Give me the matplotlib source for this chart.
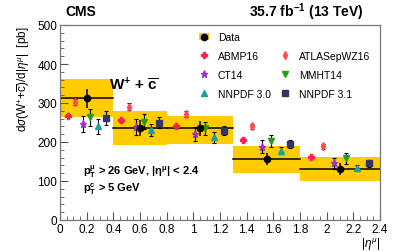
import numpy as np
import matplotlib
matplotlib.use("Agg")
import matplotlib.pyplot as plt
from matplotlib.patches import Patch
from matplotlib.lines import Line2D

plt.rcParams['font.family'] = ['Liberation Sans', 'DejaVu Sans']
plt.rcParams['mathtext.fontset'] = 'custom'
plt.rcParams['mathtext.rm'] = 'Liberation Sans'
plt.rcParams['mathtext.it'] = 'Liberation Sans:italic'
plt.rcParams['mathtext.bf'] = 'Liberation Sans:bold'

# bins in |eta^mu|
bin_edges = [0.0, 0.4, 0.8, 1.3, 1.8, 2.4]

# measured cross section
data_val = [312, 236, 235, 156, 131]
data_stat = [25, 20, 20, 15, 15]
band_lo = [263, 192, 195, 120, 101]
band_hi = [361, 280, 267, 190, 162]

# predictions
pdf_names = ["ABMP16", "ATLASepWZ16", "CT14", "MMHT14", "NNPDF 3.0", "NNPDF 3.1"]
abmp16 = [267, 256, 240, 206, 161]
atlas = [302, 291, 272, 240, 189]
ct14 = [246, 238, 221, 188, 146]
mmht14 = [263, 252, 235, 202, 158]
nnpdf30 = [240, 231, 212, 178, 133]
nnpdf31 = [261, 249, 229, 195, 145]
abmp16_err = [4, 4, 4, 3, 3]
atlas_err = [8, 8, 7, 7, 7]
ct14_err = [21, 20, 18, 17, 14]
mmht14_err = [22, 19, 17, 15, 14]
nnpdf30_err = [20, 16, 14, 10, 8]
nnpdf31_err = [18, 14, 12, 10, 9]

styles = [
    dict(marker='P', color='#ff2050', ms=5.0),
    dict(marker='d', color='#ff4d4d', ms=3.6),
    dict(marker='*', color='#9933cc', ms=5.2),
    dict(marker='v', color='#22a010', ms=4.8),
    dict(marker='^', color='#1aa0a0', ms=4.8),
    dict(marker='s', color='#353565', ms=4.6),
]
preds = [abmp16, atlas, ct14, mmht14, nnpdf30, nnpdf31]
pred_errs = [abmp16_err, atlas_err, ct14_err, mmht14_err, nnpdf30_err, nnpdf31_err]

fig = plt.figure(figsize=(3.99, 2.53), dpi=100)
ax = fig.add_axes([60/399, 1-221/253, 320/399, 195/253])

yellow = '#ffcc00'
for i in range(5):
    lo, hi = bin_edges[i], bin_edges[i+1]
    ax.fill_between([lo, hi], band_lo[i], band_hi[i], color=yellow, lw=0, zorder=1)
    ax.plot([lo, hi], [data_val[i], data_val[i]], color='black', lw=1.1, zorder=2)
    mid = 0.5 * (lo + hi)
    ax.errorbar(mid, data_val[i], yerr=data_stat[i], fmt='o', color='black',
                ms=4.5, lw=1.1, capsize=0, zorder=5)
    w = hi - lo
    for k in range(6):
        xk = lo + (k + 1) * w / 7
        st = styles[k]
        ax.errorbar(xk, preds[k][i], yerr=pred_errs[k][i], fmt=st['marker'],
                    color=st['color'], ms=st['ms'], mec=st['color'],
                    ecolor='black', elinewidth=0.8, capsize=1.3, capthick=0.8,
                    zorder=4)

ax.set_xlim(0, 2.4)
ax.set_ylim(0, 500)
ax.set_xticks(np.arange(0, 2.41, 0.2))
ax.set_xticklabels(['0', '0.2', '0.4', '0.6', '0.8', '1', '1.2', '1.4', '1.6',
                    '1.8', '2', '2.2', '2.4'])
ax.set_xticks(np.arange(0, 2.41, 0.05), minor=True)
ax.set_yticks(np.arange(0, 501, 100))
ax.set_yticks(np.arange(0, 501, 20), minor=True)
ax.tick_params(which='both', direction='in', labelsize=8.5, color='#555555', pad=2)
ax.tick_params(which='major', length=6)
ax.tick_params(which='minor', length=3)
for sp in ax.spines.values():
    sp.set_color('#777777')
    sp.set_linewidth(0.9)

ax.set_ylabel(r'd$\sigma$(W$^{+}$+$\overline{\rm c}$)/d|$\eta^{\mu}$|  [pb]',
              fontsize=8.5, loc='top', labelpad=4)
ax.set_xlabel(r'|$\eta^{\mu}$|', fontsize=8.5, loc='right', labelpad=0)

fig.text(65/399, 1-12/253, 'CMS', fontsize=10, fontweight='bold', va='center')
fig.text(364/399, 1-12/253, r'35.7 fb$^{\mathbf{-1}}$ (13 TeV)', fontsize=10,
         fontweight='bold', va='center', ha='right')

ax.text(0.37, 350, r'$\mathbf{W^{+}}$ + $\mathbf{\overline{c}}$', fontsize=11,
        fontweight='bold', va='center', zorder=6)
ax.text(0.17, 126, r'$\mathbf{p_{T}^{\mu}}$ > 26 GeV, |$\mathbf{\eta^{\mu}}$| < 2.4',
        fontsize=8, fontweight='bold', va='center', zorder=6)
ax.text(0.17, 80, r'$\mathbf{p_{T}^{c}}$ > 5 GeV', fontsize=8,
        fontweight='bold', va='center', zorder=6)

data_handle = (Patch(facecolor=yellow, edgecolor='none'),
               Line2D([], [], marker='o', color='black', ls='', ms=4.5))
pred_handles = [Line2D([], [], marker=s['marker'], color=s['color'], ls='',
                       ms=s['ms']) for s in styles]
blank = Line2D([], [], ls='', marker='')
handles = [data_handle, pred_handles[0], pred_handles[2], pred_handles[4],
           blank, pred_handles[1], pred_handles[3], pred_handles[5]]
labels = ['Data', pdf_names[0], pdf_names[2], pdf_names[4],
          '', pdf_names[1], pdf_names[3], pdf_names[5]]
ax.legend(handles, labels, ncol=2, loc='upper left', bbox_to_anchor=(0.415, 0.995),
          frameon=False, fontsize=7.5, labelspacing=0.85, handlelength=1.0,
          handletextpad=0.8, columnspacing=0.9, borderaxespad=0.2)

fig.savefig('out.png', dpi=100)
